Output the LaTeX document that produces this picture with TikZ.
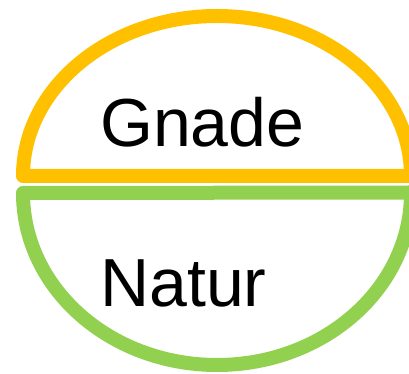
\documentclass[tikz,border=0pt]{standalone}
\usepackage{fontspec}
\setmainfont{Liberation Sans}
\definecolor{gold}{HTML}{FFC000}
\definecolor{leaf}{HTML}{92D050}
\begin{document}
\begin{tikzpicture}[x=1pt,y=1pt,
  halfbowl/.style={line width=14pt,line join=round},
  lbl/.style={inner sep=0pt,anchor=base west,font=\fontsize{68}{80}\selectfont}]
\useasboundingbox (0,0) rectangle (409,374);
\draw[halfbowl,gold] (23,198) arc[start angle=180,end angle=0,x radius=194,y radius=160] -- cycle;
\draw[halfbowl,leaf] (23,181) arc[start angle=180,end angle=360,x radius=194,y radius=172] -- (411,181.5) -- cycle;
\node[lbl] (gnade) at (100,227) {Gnade};
\node[lbl] (natur) at (100,67) {Natur};
\end{tikzpicture}
\end{document}
